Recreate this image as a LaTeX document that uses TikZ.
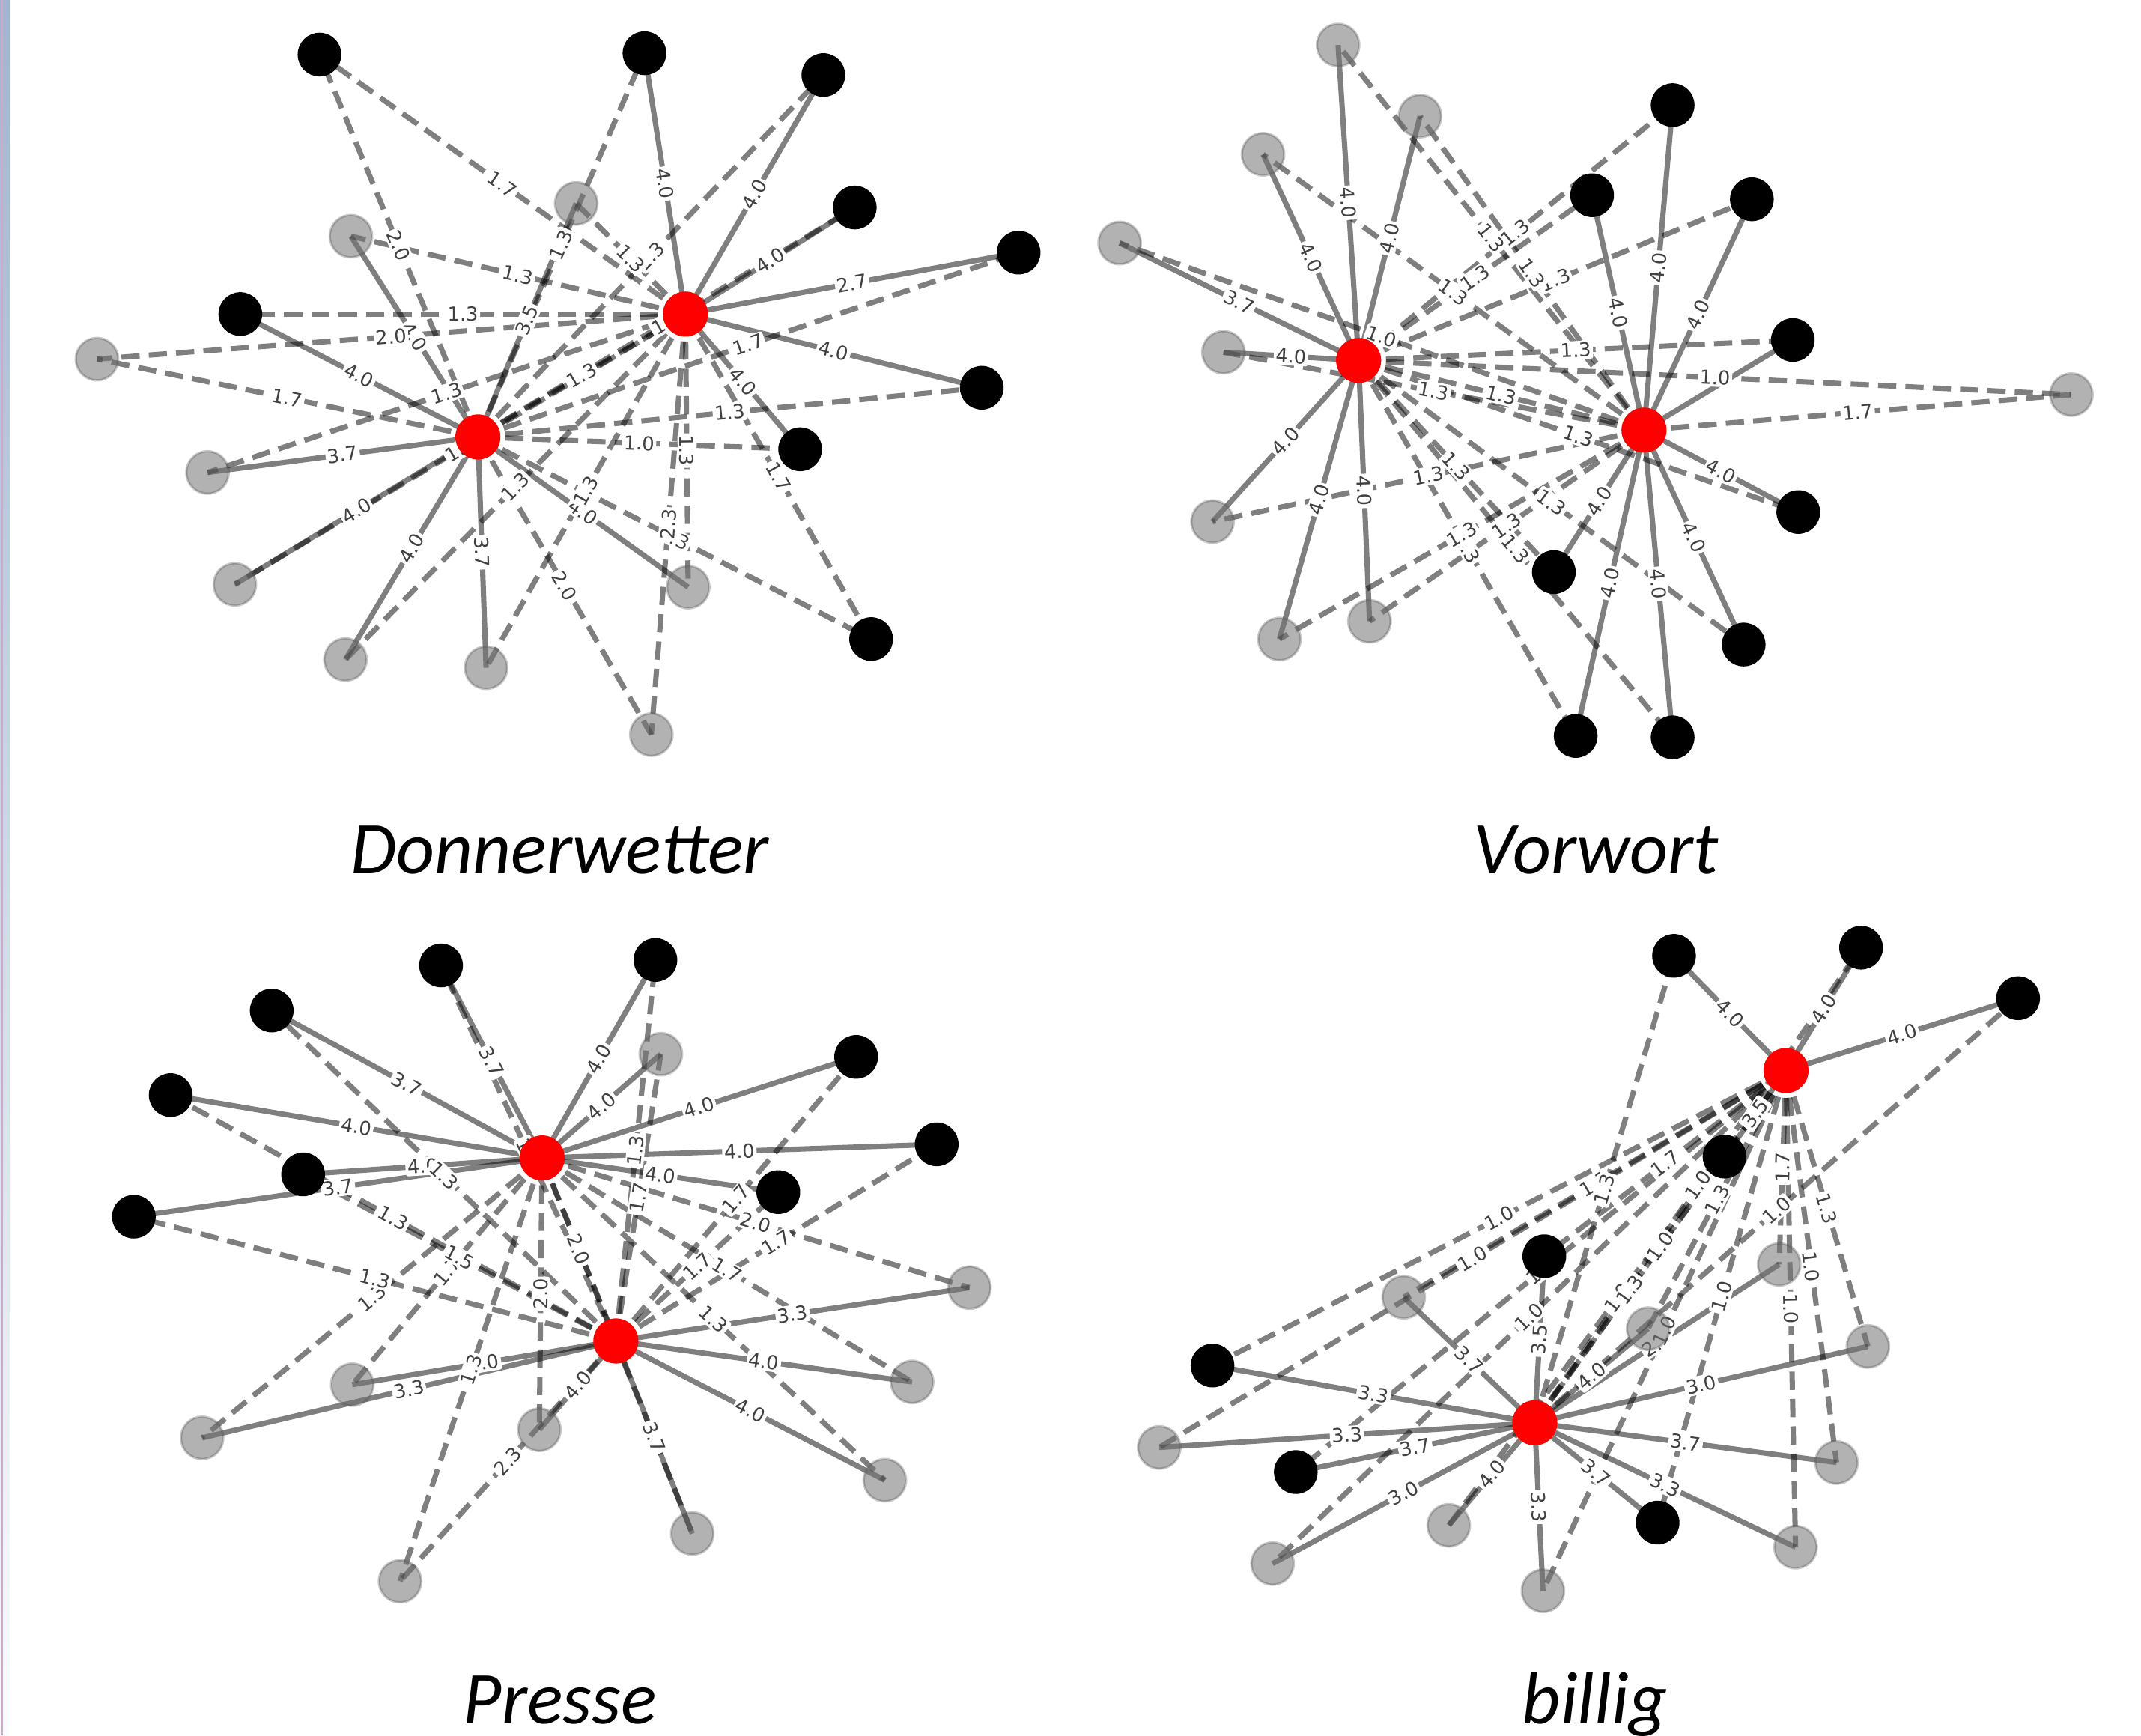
\documentclass[tikz,border=0pt]{standalone}
\usepackage{fontspec}
\newfontfamily\titlefont{Carlito}
\newfontfamily\labelfont{DejaVu Sans}
\pgfdeclarelayer{edges}
\pgfdeclarelayer{labels}
\pgfsetlayers{edges,labels,main}

\definecolor{stripblue}{RGB}{160,182,206}

\tikzset{
	hub/.style = {circle, minimum size=0.33cm, inner sep=0, fill=red},
	blk/.style = {circle, minimum size=0.32cm, inner sep=0, fill=black},
	gry/.style = {circle, minimum size=0.31cm, inner sep=0, fill=black!55, fill opacity=0.55, draw=black!70, draw opacity=0.3, line width=0.5pt},
	se/.style  = {draw=black, draw opacity=0.5, line width=1.1pt},
	de/.style  = {se, dash pattern=on 3.8pt off 1.9pt},
	lbl/.style = {midway, sloped, fill=white, inner sep=0.4pt, rounded corners=0.5pt, text=black!75, font=\labelfont\fontsize{4}{4.5}\selectfont},
	word/.style = {anchor=base, font=\titlefont\itshape\fontsize{15.5}{18}\selectfont}
}

% edge with its weight label at the midpoint
\newcommand{\edgelink}[4]{%
	\begin{pgfonlayer}{edges}\draw[#1] (#2.center) -- (#3.center);\end{pgfonlayer}%
	\begin{pgfonlayer}{labels}\path (#2.center) -- node[lbl]{#4} (#3.center);\end{pgfonlayer}}

\begin{document}
\begin{tikzpicture}[x=0.01cm, y=-0.01cm]

	\useasboundingbox (0, 0) rectangle (1568, 1271);
	
	% Slide edge
	\shade[top color=stripblue, bottom color=stripblue!5] (0, 0) rectangle (7, 1271);
	\draw[violet!35, line width=0.3pt] (1.5, 0) -- (1.5, 1271);
	
	% Donnerwetter
	\node[hub] (dA) at (350, 320) {};
	\node[hub] (dB) at (502, 230) {};
	\foreach \n/\x/\y in {db1/234/40, db2/472/39, db3/603/55, db4/626/152, db5/746/185, db6/176/230, db7/719/284, db8/586/329, db9/638/468}
		\node[blk] (\n) at (\x, \y) {};
	\foreach \n/\x/\y in {dg1/422/149, dg2/257/173, dg3/71/263, dg4/152/346, dg5/172/428, dg6/253/483, dg7/356/489, dg8/504/430, dg9/477/538}
		\node[gry] (\n) at (\x, \y) {};
	
	\foreach \n/\w in {dg1/3.5, dg2/4.0, db6/4.0, dg4/3.7, dg5/4.0, dg6/4.0, dg7/3.7, dg8/4.0}
		{\edgelink{se}{dA}{\n}{\w}}
	\foreach \n/\w in {db2/4.0, db3/4.0, db4/4.0, db5/2.7, db7/4.0, db8/4.0}
		{\edgelink{se}{dB}{\n}{\w}}
	\foreach \n/\w in {db1/2.0, dg3/1.7, db2/1.3, db3/1.3, db4/1.3, db5/1.7, db7/1.3, db8/1.0, db9/2.3, dg9/2.0, dB/1.3}
		{\edgelink{de}{dA}{\n}{\w}}
	\foreach \n/\w in {db1/1.7, dg1/1.3, dg2/1.3, db6/1.3, dg3/2.0, dg4/1.3, dg5/1.3, dg6/1.3, dg7/1.3, dg8/1.3, dg9/2.3, db9/1.7}
		{\edgelink{de}{dB}{\n}{\w}}
	
	\node[word] (t1) at (410, 640) {Donnerwetter};
	
	% Vorwort
	\node[hub] (vA) at (995, 264) {};
	\node[hub] (vB) at (1204, 315) {};
	\foreach \n/\x/\y in {vb1/1225/77, vb2/1166/143, vb3/1283/146, vb4/1313/249, vb5/1317/375, vb6/1138/419, vb7/1277/472, vb8/1154/539, vb9/1225/540}
		\node[blk] (\n) at (\x, \y) {};
	\foreach \n/\x/\y in {vg1/980/33, vg2/1040/85, vg3/925/113, vg4/820/178, vg5/896/258, vg6/888/382, vg7/937/468, vg8/1003/455, vg9/1517/289}
		\node[gry] (\n) at (\x, \y) {};
	
	\foreach \n/\w in {vg1/4.0, vg2/4.0, vg3/4.0, vg4/3.7, vg5/4.0, vg6/4.0, vg7/4.0, vg8/4.0}
		{\edgelink{se}{vA}{\n}{\w}}
	\foreach \n in {vb1, vb2, vb3, vb5, vb6, vb7, vb8, vb9}
		{\edgelink{se}{vB}{\n}{4.0}}
	\begin{pgfonlayer}{edges}
		\draw[se] (vB.center) -- (vb4.center); % its label is hidden under 1.0
	\end{pgfonlayer}
	\foreach \n/\w in {vb1/1.3, vb2/1.3, vb3/1.3, vb4/1.3, vb5/1.3, vb6/1.3, vb7/1.3, vb8/1.3, vb9/1.3, vg9/1.0, vB/1.3}
		{\edgelink{de}{vA}{\n}{\w}}
	\foreach \n/\w in {vg1/1.3, vg2/1.3, vg3/1.3, vg4/1.0, vg5/1.3, vg6/1.3, vg7/1.3, vg8/1.3, vg9/1.7}
		{\edgelink{de}{vB}{\n}{\w}}
	
	\node[word] (t2) at (1169, 640) {Vorwort};
	
	% Presse
	\node[hub] (pA) at (397, 848) {};
	\node[hub] (pB) at (451, 982) {};
	\foreach \n/\x/\y in {pb1/323/707, pb2/480/703, pb3/199/740, pb4/627/774, pb5/125/802, pb6/686/838, pb7/222/860, pb8/570/873, pb9/98/891}
		\node[blk] (\n) at (\x, \y) {};
	\foreach \n/\x/\y in {pg1/484/772, pg2/710/943, pg3/258/1014, pg4/668/1012, pg5/148/1053, pg6/395/1047, pg7/648/1084, pg8/507/1123, pg9/293/1158}
		\node[gry] (\n) at (\x, \y) {};
	
	\foreach \n/\w in {pb1/3.7, pb2/4.0, pg1/4.0, pb3/3.7, pb5/4.0, pb7/4.0, pb9/3.7, pb4/4.0, pb6/4.0, pb8/4.0}
		{\edgelink{se}{pA}{\n}{\w}}
	\foreach \n/\w in {pg2/3.3, pg3/4.0, pg5/3.3, pg4/4.0, pg6/4.0, pg7/4.0, pg8/3.7}
		{\edgelink{se}{pB}{\n}{\w}}
	\foreach \n/\w in {pB/2.0, pg2/2.0, pg3/1.7, pg4/1.7, pg5/1.3, pg6/2.0, pg7/1.3, pg8/1.3, pg9/1.3}
		{\edgelink{de}{pA}{\n}{\w}}
	\foreach \n/\w in {pb1/1.3, pb2/1.3, pb3/1.3, pb4/1.7, pb5/1.3, pb6/1.7, pb7/1.5, pb8/1.7, pb9/1.3, pg1/1.7, pg9/2.3}
		{\edgelink{de}{pB}{\n}{\w}}
	
	\node[word] (t3) at (410, 1262) {Presse};
	
	% billig
	\node[hub] (bA) at (1308, 784) {};
	\node[hub] (bB) at (1124, 1042) {};
	\foreach \n/\x/\y in {bb1/1226/700, bb2/1363/694, bb3/1478/731, bb4/1263/847, bb5/1131/920, bb6/888/1000, bb7/949/1078, bb8/1214/1115}
		\node[blk] (\n) at (\x, \y) {};
	\foreach \n/\x/\y in {bg1/1028/950, bg2/1303/926, bg3/1207/973, bg4/1368/986, bg5/849/1060, bg6/1345/1071, bg7/1061/1117, bg8/932/1145, bg9/1315/1133, bg10/1130/1165}
		\node[gry] (\n) at (\x, \y) {};
	
	\foreach \n/\w in {bb1/4.0, bb2/4.0, bb3/4.0, bb4/3.5}
		{\edgelink{se}{bA}{\n}{\w}}
	\foreach \n/\w in {bb5/3.5, bg1/3.7, bb6/3.3, bg5/3.3, bb7/3.7, bg8/3.0, bg7/4.0, bg10/3.3, bb8/3.7, bg3/4.0, bg2/2.7, bg4/3.0, bg6/3.7, bg9/3.3}
		{\edgelink{se}{bB}{\n}{\w}}
	\foreach \n/\w in {bb5/1.7, bg3/1.3, bB/1.0, bg2/1.7, bg4/1.3, bg6/1.0, bg9/1.0, bb8/1.0, bg7/1.0, bb6/1.0, bg5/1.0, bg1/1.3, bg8/1.0, bg10/1.0, bb7/1.0}
		{\edgelink{de}{bA}{\n}{\w}}
	\foreach \n/\w in {bb1/1.3, bb2/1.0, bb3/1.0, bb4/1.3}
		{\edgelink{de}{bB}{\n}{\w}}
	
	\node[word] (t4) at (1168, 1262) {billig};

\end{tikzpicture}
\end{document}
